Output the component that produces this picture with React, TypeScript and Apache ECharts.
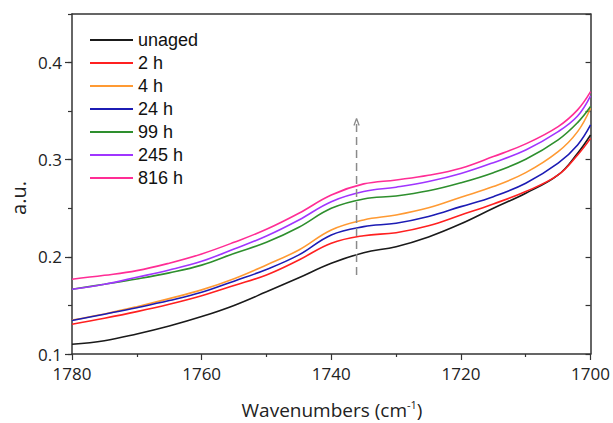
import React, { useEffect, useRef } from "react";
import * as echarts from "echarts";

const wavenumbers = [1780, 1775, 1770, 1765, 1760, 1755, 1750, 1745, 1740, 1735, 1730, 1725, 1720, 1715, 1710, 1705, 1702, 1700];

const unaged = [0.110, 0.1137, 0.1206, 0.1288, 0.1385, 0.1500, 0.1640, 0.1785, 0.1934, 0.2043, 0.2105, 0.2205, 0.2340, 0.2500, 0.2655, 0.2843, 0.3067, 0.3255];
const h2 = [0.1306, 0.1368, 0.1436, 0.1512, 0.1600, 0.1705, 0.1814, 0.1968, 0.2140, 0.2218, 0.2249, 0.2320, 0.2431, 0.2545, 0.2672, 0.2843, 0.3049, 0.3220];
const h4 = [0.1350, 0.1412, 0.1487, 0.1570, 0.1660, 0.1775, 0.1917, 0.2071, 0.2277, 0.2380, 0.2431, 0.2505, 0.2614, 0.2723, 0.2867, 0.3083, 0.3289, 0.3530];
const h24 = [0.1345, 0.1410, 0.1477, 0.1550, 0.1635, 0.1750, 0.1870, 0.2020, 0.2226, 0.2311, 0.2346, 0.2415, 0.2517, 0.2620, 0.2758, 0.2964, 0.3152, 0.3358];
const h99 = [0.1666, 0.1718, 0.1772, 0.1835, 0.1915, 0.2035, 0.2150, 0.2305, 0.2500, 0.2596, 0.2627, 0.2680, 0.2763, 0.2867, 0.3005, 0.3204, 0.3382, 0.3547];
const h245 = [0.1666, 0.1718, 0.1790, 0.1865, 0.1955, 0.2080, 0.2215, 0.2380, 0.2568, 0.2672, 0.2717, 0.2775, 0.2858, 0.2970, 0.3100, 0.3289, 0.3450, 0.3657];
const h816 = [0.1770, 0.1810, 0.1858, 0.1935, 0.2030, 0.2150, 0.2284, 0.2449, 0.2637, 0.2751, 0.2792, 0.2840, 0.2912, 0.3032, 0.3163, 0.3341, 0.3513, 0.3700];

const seriesNames = ["unaged", "2 h", "4 h", "24 h", "99 h", "245 h", "816 h"];
const seriesValues = [unaged, h2, h4, h24, h99, h245, h816];
const seriesColors = ["#1a1a1a", "#ff2020", "#ff9a33", "#1c1cb4", "#2e8f2e", "#a035ff", "#ff2d95"];

// dashed arrow annotation (data units)
const arrowShaft = [[1736.1, 0.1814], [1736.1, 0.341]];
const arrowHead = [[1736.5, 0.3353], [1736.1, 0.3425], [1735.7, 0.3353]];

const xTicks = { min: 1700, max: 1780, interval: 20 };
const yTicks = { min: 0.1, max: 0.45, interval: 0.1 };

export default function App() {
  const ref = useRef<HTMLDivElement>(null);
  useEffect(() => {
    if (!ref.current) return;
    const chart = echarts.init(ref.current, null, { renderer: "svg" });
    const axisColor = "#333";
    const tickFont = "Open Sans";
    const series: any[] = seriesNames.map((name, i) => ({
      name,
      type: "line",
      smooth: 0.4,
      symbol: "none",
      data: wavenumbers.map((w, j) => [w, seriesValues[i][j]]),
      lineStyle: { width: 1.6, color: seriesColors[i] },
      itemStyle: { color: seriesColors[i] },
      z: 3,
    }));
    series.push({
      name: "arrowShaft",
      type: "line",
      symbol: "none",
      data: arrowShaft,
      lineStyle: { width: 1.5, color: "#8a8a8a", type: [8, 5] },
      silent: true,
      z: 4,
    });
    series.push({
      name: "arrowHead",
      type: "line",
      symbol: "none",
      data: arrowHead,
      lineStyle: { width: 1.3, color: "#8a8a8a" },
      silent: true,
      z: 4,
    });
    chart.setOption({
      animation: false,
      backgroundColor: "#fff",
      grid: { left: 72, right: 20, top: 14, bottom: 69, containLabel: false },
      legend: {
        data: seriesNames,
        orient: "vertical",
        left: 90,
        top: 31,
        padding: 0,
        icon: "rect",
        itemWidth: 43,
        itemHeight: 2,
        itemGap: 5.0,
        textStyle: { fontFamily: "Liberation Sans", fontSize: 18, color: "#111", lineHeight: 17 },
      },
      graphic: [
        {
          type: "text",
          x: 18,
          y: 198,
          rotation: Math.PI / 2,
          style: {
            text: "a.u.",
            fontFamily: tickFont,
            fontSize: 20,
            fill: "#222",
            align: "center",
            verticalAlign: "middle",
          },
        },
        {
          type: "text",
          x: 332,
          y: 410,
          style: {
            text: "Wavenumbers (cm{sup|-1})",
            fontFamily: tickFont,
            fontSize: 19,
            fill: "#222",
            align: "center",
            verticalAlign: "middle",
            rich: {
              sup: { fontFamily: tickFont, fontSize: 11, fill: "#222", verticalAlign: "top", padding: [0, 0, 12, 0] },
            },
          },
        },
      ],
      xAxis: [
        {
          type: "value",
          inverse: true,
          min: xTicks.min,
          max: xTicks.max,
          interval: xTicks.interval,
          position: "bottom",
          axisLine: { show: true, lineStyle: { color: axisColor, width: 1.5 } },
          axisTick: { show: true, inside: false, length: 6, lineStyle: { color: axisColor, width: 1.2 } },
          minorTick: { show: true, splitNumber: 2, length: 3, lineStyle: { color: axisColor, width: 1.2 } },
          axisLabel: { margin: 11, fontFamily: tickFont, fontSize: 17, color: "#222", formatter: (v: number) => String(v) },
          splitLine: { show: false },
        },
        {
          type: "value",
          inverse: true,
          min: xTicks.min,
          max: xTicks.max,
          interval: xTicks.interval,
          position: "top",
          axisLine: { show: true, lineStyle: { color: axisColor, width: 1.5 } },
          axisTick: { show: false },
          axisLabel: { show: false },
          splitLine: { show: false },
        },
      ],
      yAxis: [
        {
          type: "value",
          min: yTicks.min,
          max: yTicks.max,
          interval: yTicks.interval,
          position: "left",
          axisLine: { show: true, lineStyle: { color: axisColor, width: 1.5 } },
          axisTick: { show: true, inside: false, length: 7, lineStyle: { color: axisColor, width: 1.2 } },
          axisLabel: {
            margin: 10,
            fontFamily: tickFont,
            fontSize: 17,
            color: "#222",
            showMaxLabel: false,
            formatter: (v: number) => v.toFixed(1),
          },
          splitLine: { show: false },
        },
        {
          type: "value",
          min: 0.1,
          max: 0.45,
          interval: 0.05,
          position: "left",
          axisLine: { show: false },
          axisTick: { show: true, inside: false, length: 4, lineStyle: { color: axisColor, width: 1.2 } },
          axisLabel: { show: false },
          splitLine: { show: false },
        },
        {
          type: "value",
          min: 0.1,
          max: 0.45,
          interval: 0.05,
          position: "right",
          axisLine: { show: true, lineStyle: { color: axisColor, width: 1.5 } },
          axisTick: { show: true, inside: true, length: 5, lineStyle: { color: axisColor, width: 1.2 } },
          axisLabel: { show: false },
          splitLine: { show: false },
        },
      ],
      series,
    });
    return () => chart.dispose();
  }, []);
  return <div ref={ref} style={{ position: "fixed", left: 0, top: 0, width: 613, height: 423 }} />;
}
